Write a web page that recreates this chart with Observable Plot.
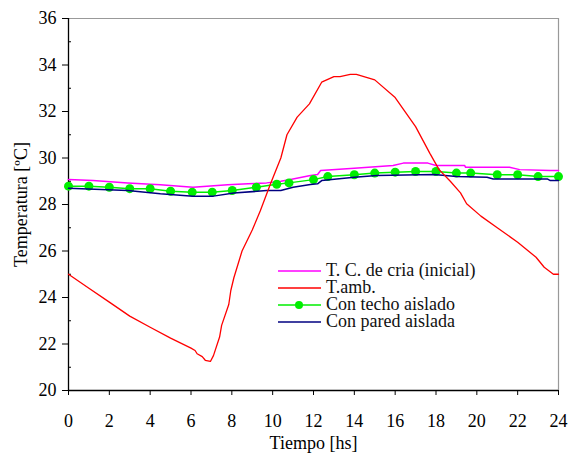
<!DOCTYPE html>
<html>
<head>
<meta charset="utf-8">
<script src="https://cdn.jsdelivr.net/npm/d3@7"></script>
<script src="https://cdn.jsdelivr.net/npm/@observablehq/plot@0.6"></script>
</head>
<body style="margin:0;padding:0;background:#fff">
<div id="wrap" style="position:relative;width:568px;height:457px;font-family:'Liberation Serif'"></div>
<script>
// ---- data ----
const xTicks = [0, 2, 4, 6, 8, 10, 12, 14, 16, 18, 20, 22, 24];
const yTicks = [20, 22, 24, 26, 28, 30, 32, 34, 36];
const yMinorTicks = [21, 23, 25, 27, 29, 31, 33, 35];

const seriesNames = ["T. C. de cria (inicial)", "T.amb.", "Con techo aislado", "Con pared aislada"];
const seriesColors = ["#ff00ff", "#ff0000", "#00ee00", "#000080"];

const criaHours = [0, 1.2, 2.9, 4.5, 6.1, 7.8, 8.8, 9.7, 10.4, 11.0, 11.85, 12.2, 12.35, 14.0, 15.9, 16.4, 17.6, 18.0, 19.4, 19.45, 21.6, 22.1, 23.6, 24];
const criaTemps = [29.08, 29.03, 28.93, 28.85, 28.74, 28.85, 28.89, 28.93, 29.0, 29.1, 29.25, 29.29, 29.46, 29.56, 29.68, 29.78, 29.78, 29.68, 29.68, 29.6, 29.6, 29.5, 29.46, 29.46];

const ambHours = [0, 1, 2, 3, 4, 5, 6, 6.2, 6.3, 6.55, 6.7, 6.95, 7.1, 7.4, 7.5, 7.85, 7.95, 8.1, 8.5, 9.0, 9.4, 9.9, 10.4, 10.7, 11.2, 11.8, 12.4, 13.0, 13.3, 13.8, 14.1, 15.0, 16.0, 17.0, 17.7, 18.15, 18.7, 19.2, 19.5, 20.2, 21.0, 22.0, 22.9, 23.3, 23.75, 24];
const ambTemps = [25.0, 24.4, 23.8, 23.2, 22.72, 22.25, 21.82, 21.72, 21.58, 21.46, 21.3, 21.25, 21.5, 22.3, 22.8, 23.7, 24.3, 24.85, 26.0, 26.9, 27.74, 28.9, 30.0, 31.0, 31.76, 32.33, 33.26, 33.5, 33.5, 33.6, 33.6, 33.36, 32.6, 31.35, 30.2, 29.5, 29.0, 28.5, 28.03, 27.5, 27.0, 26.38, 25.73, 25.3, 25.0, 25.0];

const techoHours = [0, 1, 2, 3, 4, 5, 6.06, 7.04, 8.02, 9.2, 10.2, 10.8, 12.0, 12.7, 14.0, 15.0, 16.0, 17.0, 18.0, 19.0, 19.7, 21.0, 22.0, 23.0, 24];
const techoTemps = [28.79, 28.79, 28.74, 28.68, 28.68, 28.57, 28.53, 28.53, 28.6, 28.74, 28.87, 28.93, 29.07, 29.2, 29.28, 29.35, 29.39, 29.42, 29.42, 29.35, 29.35, 29.28, 29.28, 29.2, 29.2];

const paredHours = [0, 2.9, 4.5, 6.1, 7.1, 8.1, 9.7, 10.4, 11.0, 11.85, 12.2, 12.4, 14.0, 15.1, 17.9, 19.0, 20.5, 20.8, 23.45, 23.6, 24];
const paredTemps = [28.7, 28.6, 28.46, 28.36, 28.36, 28.49, 28.6, 28.6, 28.74, 28.86, 28.89, 29.03, 29.17, 29.25, 29.29, 29.2, 29.17, 29.1, 29.1, 29.03, 29.03];

const toRows = (hs, ts) => hs.map((h, i) => ({h, t: ts[i]}));
const cria = toRows(criaHours, criaTemps);
const amb = toRows(ambHours, ambTemps);
const techo = toRows(techoHours, techoTemps);
const pared = toRows(paredHours, paredTemps);

const chart = Plot.plot({
  width: 568,
  height: 457,
  marginLeft: 68,
  marginRight: 10,
  marginTop: 18,
  marginBottom: 67,
  style: {fontFamily: "'Liberation Serif'", fontSize: "18px", background: "white"},
  x: {domain: [0, 24]},
  y: {domain: [20, 36]},
  marks: [
    Plot.ruleY([36], {stroke: "#999", strokeWidth: 1.2}),
    Plot.ruleX([24], {stroke: "#999", strokeWidth: 1.2}),
    Plot.axisY({ticks: yTicks, tickSize: 6, tickPadding: 6, label: "Temperatura [ºC]", labelAnchor: "center", labelArrow: "none", labelOffset: 54, fontSize: 18}),
    Plot.axisY({ticks: yMinorTicks, tickSize: -3, text: null, label: null}),
    Plot.axisX({ticks: xTicks, tickSize: 5, tickPadding: 19, label: "Tiempo [hs]", labelAnchor: "center", labelArrow: "none", labelOffset: 58, fontSize: 18}),
    Plot.ruleX([0], {stroke: "#000", strokeWidth: 1.3}),
    Plot.ruleY([20], {stroke: "#000", strokeWidth: 1.3}),
    Plot.line(cria, {x: "h", y: "t", stroke: seriesColors[0], strokeWidth: 1.5}),
    Plot.line(techo, {x: "h", y: "t", stroke: seriesColors[2], strokeWidth: 1.5}),
    Plot.dot(techo, {x: "h", y: "t", fill: seriesColors[2], r: 4.5}),
    Plot.line(pared, {x: "h", y: "t", stroke: seriesColors[3], strokeWidth: 1.5}),
    Plot.line(amb, {x: "h", y: "t", stroke: seriesColors[1], strokeWidth: 1.3})
  ]
});

const wrap = document.getElementById("wrap");
wrap.appendChild(chart);

// legend overlay
const legend = document.createElement("div");
legend.setAttribute("style", "position:absolute;left:278px;top:262px;font-size:18px;line-height:17px;color:#111;font-family:'Liberation Serif'");
seriesNames.forEach((name, i) => {
  const row = document.createElement("div");
  row.setAttribute("style", "display:flex;align-items:center;height:17px;white-space:nowrap;font-family:'Liberation Serif'");
  const dot = i === 2 ? `<circle cx="21" cy="6" r="4" fill="${seriesColors[i]}"/>` : "";
  row.innerHTML = `<svg width="43" height="12" style="margin-right:5px"><line x1="0" x2="43" y1="6" y2="6" stroke="${seriesColors[i]}" stroke-width="1.5"/>${dot}</svg><span style="font-family:'Liberation Serif'">${name}</span>`;
  legend.appendChild(row);
});
wrap.appendChild(legend);
</script>
</body>
</html>
